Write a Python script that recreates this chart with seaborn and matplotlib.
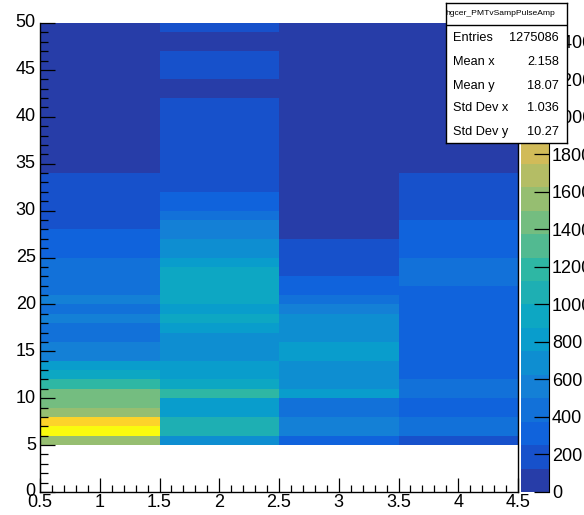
import numpy as np
import pandas as pd
import matplotlib
matplotlib.use("Agg")
import matplotlib.pyplot as plt
from matplotlib.colors import ListedColormap
from matplotlib.ticker import MultipleLocator
import seaborn as sns

# x bins (centres 1..4), y bins [5,6) ... [49,50); counts read off the colour levels
x_bins = [1, 2, 3, 4]
y_first_bin = 5
counts_x1 = [1560, 2450, 2190, 1560, 1440, 1440, 1190, 940, 810, 560,
             560, 440, 440, 560, 440, 560, 440, 440, 440, 440,
             310, 310, 310, 190, 190, 190, 190, 190, 190, 60,
             60, 60, 60, 60, 60, 60, 60, 60, 60, 60,
             60, 60, 60, 60, 60]
counts_x2 = [690, 1060, 1060, 810, 810, 1190, 940, 810, 810, 690,
             690, 690, 810, 940, 810, 940, 940, 940, 940, 810,
             690, 690, 560, 560, 440, 310, 310, 190, 190, 190,
             190, 190, 190, 190, 190, 190, 190, 60, 60, 190,
             190, 190, 60, 60, 190]
counts_x3 = [310, 560, 560, 440, 440, 810, 690, 690, 690, 810,
             810, 690, 690, 690, 560, 440, 310, 310, 190, 190,
             190, 190, 60, 60, 60, 60, 60, 60, 60, 60,
             60, 60, 60, 60, 60, 60, 60, 60, 60, 60,
             60, 60, 60, 60, 60]
counts_x4 = [190, 440, 440, 310, 310, 440, 440, 310, 310, 310,
             310, 310, 310, 310, 310, 310, 310, 440, 440, 440,
             310, 310, 310, 310, 190, 190, 190, 190, 190, 60,
             60, 60, 60, 60, 60, 60, 60, 60, 60, 60,
             60, 60, 60, 60, 60]

stats_labels = ["Entries", "Mean x", "Mean y", "Std Dev x", "Std Dev y"]
stats_values = ["1275086", "2.158", "18.07", "1.036", "10.27"]
hist_name = "hgcer_PMTvSampPulseAmp"
cbar_ticks = [0, 200, 400, 600, 800, 1000, 1200, 1400, 1600, 1800, 2000, 2200, 2400]
z_max = 2500


def bird_palette(ncont=20):
    """ROOT kBird palette sampled the way COLZ picks its contour colours"""
    stops = [0.0, 0.125, 0.25, 0.375, 0.5, 0.625, 0.75, 0.875, 1.0]
    red = [0.2082, 0.0592, 0.0780, 0.0232, 0.1802, 0.5301, 0.8186, 0.9956, 0.9764]
    green = [0.1664, 0.3599, 0.5041, 0.6419, 0.7178, 0.7492, 0.7328, 0.7862, 0.9832]
    blue = [0.5293, 0.8684, 0.8385, 0.7914, 0.6425, 0.4662, 0.3499, 0.1968, 0.0539]
    cols = []
    for i in range(ncont):
        f = int((i + 0.99) * 255 / ncont) / 254
        cols.append((np.interp(f, stops, red), np.interp(f, stops, green), np.interp(f, stops, blue)))
    return ListedColormap(cols)


# table: rows = y bin lower edge 0..49, columns = x bin
df = pd.DataFrame({x: c for x, c in zip(x_bins, [counts_x1, counts_x2, counts_x3, counts_x4])},
                  index=np.arange(y_first_bin, y_first_bin + len(counts_x1)))
df = df.reindex(np.arange(0, 50), fill_value=0)

plt.rcParams['font.family'] = ['Liberation Sans', 'DejaVu Sans']
W, H = 584, 515
fig = plt.figure(figsize=(W / 100, H / 100), dpi=100)
ax = fig.add_axes([40 / W, 23 / H, 478 / W, 469 / H])
cax = fig.add_axes([521 / W, 23 / H, 28 / W, 469 / H])

sns.heatmap(df, ax=ax, cbar_ax=cax, cmap=bird_palette(), vmin=0, vmax=z_max,
            mask=(df == 0), linewidths=0)
ax.invert_yaxis()

# axes in ROOT style: inward ticks, numeric labels
ax.set_xticks(np.arange(0, 4.01, 0.5))
ax.set_xticklabels(["0.5", "1", "1.5", "2", "2.5", "3", "3.5", "4", "4.5"], rotation=0)
ax.xaxis.set_minor_locator(MultipleLocator(0.1))
ax.set_yticks(np.arange(0, 51, 5))
ax.set_yticklabels([str(v) for v in range(0, 51, 5)], rotation=0)
ax.yaxis.set_minor_locator(MultipleLocator(1))
ax.tick_params(which='both', direction='in', bottom=True, left=True, top=False, right=False,
               labelsize=13, colors='black')
ax.tick_params(axis='y', which='major', length=10.8, width=0.9, pad=3)
ax.tick_params(axis='y', which='minor', length=5.4, width=0.9)
ax.tick_params(axis='x', which='major', length=10, width=0.9, pad=1.5)
ax.tick_params(axis='x', which='minor', length=5, width=0.9)
ax.set_xlabel("")
ax.set_ylabel("")
for side in ['left', 'bottom', 'right']:
    ax.spines[side].set_visible(True)
    ax.spines[side].set_color('black')
    ax.spines[side].set_linewidth(1)
ax.spines['top'].set_visible(False)

# colour scale
cbar = ax.collections[0].colorbar
cbar.set_ticks(cbar_ticks)
cbar.set_ticklabels([str(t) for t in cbar_ticks])
cbar.outline.set_visible(False)
cax.spines['right'].set_visible(True)
cax.spines['right'].set_color('black')
cax.yaxis.set_ticks_position('right')
cax.tick_params(direction='in', length=10.8, width=0.9, pad=2, labelsize=13, colors='black')
cax.minorticks_off()

# statistics box
sax = fig.add_axes([446 / W, (H - 142.7) / H, 121 / W, 140 / H])
sax.set_xticks([])
sax.set_yticks([])
sax.set_facecolor('white')
for sp in sax.spines.values():
    sp.set_color('black')
    sp.set_linewidth(1)
sax.axhline(0.84, color='black', lw=1)
sax.text(-0.005, 0.92, hist_name, fontsize=6.1, ha='left', va='center', transform=sax.transAxes)
row_y = [0.748, 0.576, 0.405, 0.248, 0.079]
for lab, val, yy in zip(stats_labels, stats_values, row_y):
    sax.text(0.055, yy, lab, fontsize=9.2, ha='left', va='center', transform=sax.transAxes)
    sax.text(0.934, yy, val, fontsize=9.2, ha='right', va='center', transform=sax.transAxes)

fig.savefig("out.png", dpi=100)
